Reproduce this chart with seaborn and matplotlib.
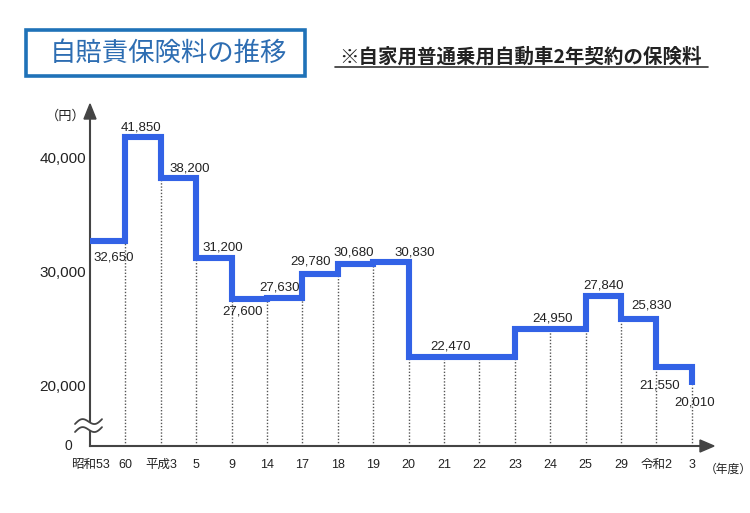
import matplotlib
matplotlib.use('Agg')
import matplotlib.pyplot as plt
import seaborn as sns
import numpy as np
import pandas as pd
from matplotlib.patches import Rectangle, Polygon
from matplotlib.lines import Line2D

# ---- data ----
years = ['昭和53', '60', '平成3', '5', '9', '14', '17', '18', '19', '20',
         '21', '22', '23', '24', '25', '29', '令和2', '3']
premiums = [32650, 41850, 38200, 31200, 27600, 27630, 29780, 30680, 30830,
            22470, 22470, 22470, 24950, 24950, 27840, 25830, 21550, 20010]
yticks = [20000, 30000, 40000]
ytick_labels = ['20,000', '30,000', '40,000']
label_values = [32650, 41850, 38200, 31200, 27600, 27630, 29780, 30680,
                30830, 22470, 24950, 27840, 25830, 21550, 20010]
# label placement (x index position, vertical pixel offset)
label_pos = [(0.68, -16), (1.43, 10), (2.83, 10), (3.74, 10), (4.3, -13),
             (5.36, 11), (6.23, 12), (7.45, 11), (9.17, 10), (10.2, 10),
             (13.06, 10), (14.5, 11), (15.86, 13), (16.1, -18), (17.08, -18)]

title = '自賠責保険料の推移'
subtitle = '※自家用普通乗用自動車2年契約の保険料'

sns.set_theme(style='white')
fams = ['Liberation Sans', 'Noto Sans CJK JP', 'DejaVu Sans']
plt.rcParams['font.family'] = fams

W, H = 750, 513
fig = plt.figure(figsize=(7.5, 5.13), dpi=100)
fig.patch.set_facecolor('white')

def fx(px):
    return px / W

def fy(py):
    return 1 - py / H

ax = fig.add_axes([fx(90), fy(446), (702 - 90) / W, (446 - 118) / H])
ax.set_facecolor('white')

df = pd.DataFrame({'idx': np.arange(len(years)), 'premium': premiums})
blue = '#3262E6'
sns.lineplot(data=df, x='idx', y='premium', ax=ax, drawstyle='steps-post',
             color=blue, linewidth=4.4, solid_joinstyle='miter',
             solid_capstyle='butt', zorder=4)

ymin, ymax = 14626, 43524
ax.set_xlim(0, 17.29)
ax.set_ylim(ymin, ymax)

# dotted guides
for i in range(1, len(years)):
    top = min(premiums[i - 1], premiums[i])
    ax.vlines(i, ymin, top, colors='#555555', linestyles=(0, (1, 1.3)),
              linewidth=1.0, zorder=2)

ax.set_xticks(np.arange(len(years)))
ax.set_xticklabels(years, fontsize=9, color='#222222')
ax.set_yticks(yticks)
ax.set_yticklabels(ytick_labels, fontsize=11, color='#222222')
ax.tick_params(axis='both', length=0)
ax.tick_params(axis='x', pad=9.5)
ax.tick_params(axis='y', pad=3)
ax.set_xlabel('')
ax.set_ylabel('')
ax.grid(False)

for s in ['top', 'right']:
    ax.spines[s].set_visible(False)
for s in ['left', 'bottom']:
    ax.spines[s].set_color('#444444')
    ax.spines[s].set_linewidth(1.5)

# value labels
for v, (xp, dy) in zip(label_values, label_pos):
    ax.annotate(f'{v:,}', xy=(xp, v), xytext=(0, dy), textcoords='offset pixels',
                ha='center', va='center', fontsize=9.5, color='#222222', zorder=5)

# arrow heads
fig.add_artist(Polygon([(fx(90), fy(104)), (fx(84), fy(119)), (fx(96), fy(119))],
                       closed=True, transform=fig.transFigure, color='#444444', zorder=3))
fig.add_artist(Polygon([(fx(714), fy(446)), (fx(700), fy(440)), (fx(700), fy(452))],
                       closed=True, transform=fig.transFigure, color='#444444', zorder=3))

# axis break mark
xs = np.linspace(75, 102, 40)
def wave(base):
    return base - 0.18 * (xs - 75) - 3.6 * np.sin(2 * np.pi * (xs - 75) / 27)
w1 = wave(424)
w2 = wave(432)
poly = list(zip(fx(xs), fy(w1))) + list(zip(fx(xs[::-1]), fy(w2[::-1])))
fig.add_artist(Polygon(poly, closed=True, transform=fig.transFigure,
                       facecolor='white', edgecolor='none', zorder=3))
for w in (w1, w2):
    fig.add_artist(Line2D(fx(xs), fy(w), transform=fig.transFigure,
                          color='#444444', linewidth=1.3, zorder=3))

fig.text(fx(72), fy(446), '0', ha='right', va='center', fontsize=10, color='#222222')
fig.text(fx(66), fy(116), '（円）', ha='center', va='center', fontsize=9.5, color='#222222')
fig.text(fx(728), fy(470), '（年度）', ha='center', va='center', fontsize=8.5, color='#222222')

# title box
fig.add_artist(Rectangle((fx(26), fy(76)), fx(305) - fx(26), fy(30) - fy(76),
                         transform=fig.transFigure, facecolor='white',
                         edgecolor='#1F72B8', linewidth=2.6, zorder=3))
fig.text(fx(168), fy(53), title, ha='center', va='center', fontsize=19,
         color='#2D6DB2', family=['Noto Sans CJK JP'], zorder=4)

fig.text(fx(521), fy(57), subtitle, ha='center', va='center', fontsize=14,
         fontweight='bold', color='#222222', family=['Noto Sans CJK JP'])
fig.add_artist(Line2D([fx(335), fx(708)], [fy(67), fy(67)], transform=fig.transFigure,
                      color='#333333', linewidth=1.2))

fig.savefig('out.png', dpi=100, facecolor='white')
